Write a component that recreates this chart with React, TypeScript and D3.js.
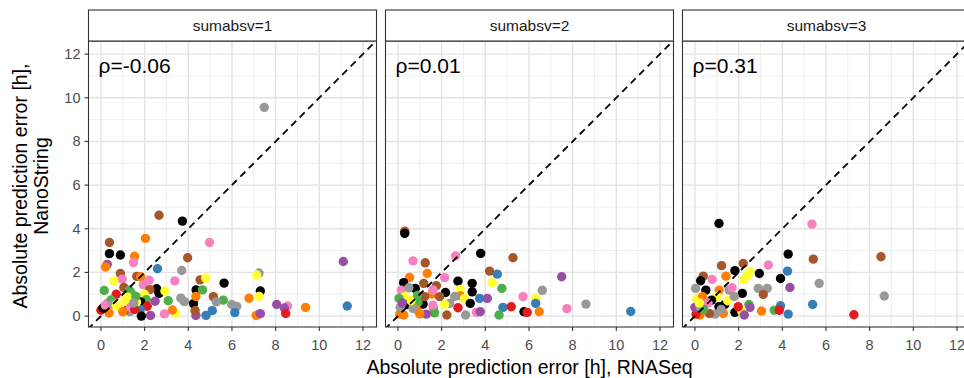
import React from "react";
import * as d3 from "d3";

const panelLabels = ["sumabsv=1", "sumabsv=2", "sumabsv=3"];
const rhoLabels = ["ρ=-0.06", "ρ=0.01", "ρ=0.31"];
const tickValues = [0, 2, 4, 6, 8, 10, 12];
const minorValues = [1, 3, 5, 7, 9, 11];
const xTitle = "Absolute prediction error [h], RNASeq";
const yTitleLines = ["Absolute prediction error [h],", "NanoString"];

const colorKeys = ["r", "b", "g", "p", "o", "y", "n", "k", "a", "x"];
const colorValues = ["#E41A1C", "#377EB8", "#4DAF4A", "#984EA3", "#FF7F00", "#FFFF33", "#A65628", "#F781BF", "#999999", "#000000"];

const p1x = [7.48, 2.66, 3.73, 2.04, 0.39, 4.97, 0.39, 0.89, 1.54, 3.97, 1.49, 0.29, 0.21, 2.59, 3.70, 11.1, 7.24, 7.13, 0.89, 1.64, 1.82, 0.97, 2.21, 0.59, 3.38, 4.54, 4.80, 1.94, 5.64, 1.05, 0.15, 1.38, 2.55, 2.66, 2.93, 4.36, 4.65, 7.30, 7.24, 0.70, 1.30, 1.23, 2.24, 2.00, 2.08, 3.66, 3.82, 4.24, 4.35, 5.15, 5.60, 5.28, 5.99, 6.22, 3.08, 2.48, 1.82, 6.78, 8.05, 8.55, 8.40, 8.46, 9.37, 11.28, 7.11, 7.30, 6.13, 4.81, 5.10, 4.35, 4.31, 3.42, 3.27, 2.91, 2.27, 2.12, 1.80, 1.85, 1.32, 1.08, 0.86, 0.37, 0.00, 0.09, 0.31, 0.47, 1.10, 1.63, 0.20, 0.55, 0.70, 1.35, 1.55, 1.60, 1.50, 1.00];
const p1y = [9.56, 4.62, 4.35, 3.56, 3.37, 3.37, 2.86, 2.80, 2.74, 2.67, 2.45, 2.37, 2.25, 2.17, 2.09, 2.50, 1.97, 1.88, 1.95, 1.82, 1.80, 1.69, 1.64, 1.61, 1.61, 1.66, 1.74, 1.44, 1.51, 1.31, 1.17, 1.09, 1.25, 1.04, 1.15, 1.20, 1.20, 1.15, 0.90, 1.00, 1.18, 0.86, 1.21, 0.99, 0.75, 0.82, 0.66, 0.57, 0.90, 0.89, 0.73, 0.65, 0.53, 0.44, 0.70, 0.68, 0.65, 0.82, 0.53, 0.46, 0.37, 0.12, 0.40, 0.46, 0.03, 0.11, 0.16, 0.03, 0.25, 0.03, 0.25, 0.12, 0.28, 0.10, 0.03, 0.45, 0.30, 0.00, 0.20, 0.26, 0.37, 0.15, 0.27, 0.37, 0.60, 0.74, 0.72, 0.64, 0.50, 0.55, 0.50, 0.40, 0.30, 0.90, 0.60, 0.20];
const p1c = ["a", "n", "x", "o", "n", "k", "x", "x", "o", "n", "k", "p", "o", "b", "a", "p", "a", "y", "n", "n", "o", "k", "k", "y", "k", "n", "y", "k", "x", "n", "g", "a", "x", "x", "y", "x", "g", "x", "y", "r", "g", "y", "n", "y", "g", "a", "a", "x", "o", "n", "g", "a", "a", "a", "g", "p", "x", "o", "p", "k", "p", "r", "o", "b", "o", "p", "b", "b", "b", "p", "n", "y", "o", "k", "p", "r", "b", "x", "a", "r", "y", "o", "r", "x", "k", "g", "y", "y", "k", "a", "y", "k", "r", "g", "a", "o"];

const p2x = [0.31, 0.31, 2.64, 3.79, 5.27, 0.69, 1.25, 1.34, 4.20, 4.55, 2.14, 0.53, 0.26, 2.75, 4.32, 1.18, 3.40, 4.76, 0.79, 0.15, 0.50, 1.76, 2.85, 3.40, 2.18, 1.56, 1.60, 0.31, 0.05, 1.91, 2.87, 3.05, 3.74, 4.09, 5.73, 6.61, 6.32, 6.31, 7.50, 2.37, 2.14, 3.31, 0.41, 1.15, 0.92, 1.22, 4.81, 5.19, 2.75, 1.63, 1.68, 1.30, 0.84, 0.08, 0.27, 0.69, 2.24, 3.10, 3.59, 3.77, 5.77, 5.92, 6.47, 4.63, 7.74, 8.61, 10.66, 1.60, 0.10, 0.60, 0.20, 1.00, 0.90, 2.60];
const p2y = [3.89, 3.79, 2.76, 2.87, 2.67, 2.53, 2.44, 1.95, 2.06, 1.92, 1.76, 1.77, 1.53, 1.60, 1.53, 1.50, 1.50, 1.27, 1.27, 1.19, 1.30, 1.39, 1.22, 1.11, 1.08, 1.01, 1.20, 0.89, 0.81, 0.89, 0.92, 0.81, 0.81, 0.81, 0.89, 1.18, 0.81, 0.58, 1.80, 0.58, 0.53, 0.58, 0.53, 0.55, 0.63, 0.89, 0.40, 0.43, 0.38, 0.35, 0.15, 0.09, 0.31, 0.09, 0.05, 0.35, 0.05, 0.05, 0.17, 0.20, 0.20, 0.17, 0.20, 0.05, 0.34, 0.55, 0.21, 0.50, 0.40, 0.70, 0.60, 0.10, 0.95, 0.90];
const p2c = ["n", "x", "k", "x", "n", "k", "n", "o", "n", "b", "k", "o", "x", "x", "y", "n", "x", "g", "x", "k", "a", "n", "y", "x", "x", "o", "k", "y", "g", "n", "o", "y", "b", "p", "k", "a", "y", "b", "p", "a", "y", "x", "x", "x", "g", "n", "b", "r", "r", "a", "g", "p", "o", "o", "o", "a", "n", "a", "k", "p", "x", "r", "o", "g", "k", "a", "b", "k", "a", "y", "p", "o", "g", "a"];

const p3x = [1.10, 5.36, 4.27, 5.42, 3.36, 2.21, 1.22, 1.83, 2.52, 2.40, 4.24, 2.95, 1.42, 0.38, 0.79, 2.24, 3.92, 0.26, 5.69, 4.35, 0.03, 2.90, 3.31, 0.50, 1.11, 1.57, 2.17, 3.13, 0.08, 0.35, 0.99, 0.76, 5.39, 3.92, 2.47, 2.52, 3.63, 3.86, 3.05, 4.27, 1.83, 2.14, 2.26, 1.37, 1.10, 1.98, 0.92, 1.30, 0.23, 0.05, 0.00, 0.23, 0.66, 8.52, 8.67, 7.28, 0.60, 1.50, 0.40, 1.80, 1.70, 0.20, 1.20];
const p3y = [4.24, 4.21, 2.84, 2.61, 2.34, 2.41, 2.31, 2.08, 2.03, 1.85, 2.06, 1.95, 1.83, 1.83, 1.68, 1.68, 1.72, 1.62, 1.50, 1.31, 1.27, 1.27, 1.27, 1.19, 1.19, 1.19, 1.04, 0.99, 0.78, 0.89, 0.89, 0.73, 0.53, 0.47, 0.53, 0.40, 0.27, 0.27, 0.23, 0.09, 0.17, 0.23, 0.05, 0.53, 0.43, 0.43, 0.09, 0.12, 0.05, 0.09, 0.40, 0.43, 0.12, 2.72, 0.92, 0.06, 0.60, 0.70, 0.30, 0.90, 1.30, 0.60, 0.30];
const p3c = ["x", "k", "x", "n", "k", "n", "n", "x", "y", "y", "b", "x", "o", "n", "k", "y", "x", "x", "a", "p", "a", "a", "a", "x", "o", "a", "x", "n", "y", "o", "y", "x", "b", "b", "g", "p", "g", "r", "o", "b", "x", "y", "p", "x", "x", "r", "a", "o", "o", "r", "p", "a", "n", "n", "a", "r", "k", "y", "g", "a", "k", "y", "a"];

const panelsX = [p1x, p2x, p3x];
const panelsY = [p1y, p2y, p3y];
const panelsC = [p1c, p2c, p3c];

const W = 964;
const H = 378;
const PANEL_W = 288;
const PANEL_STRIDE = 297;
const PANEL_LEFT = 88.5;
const PANEL_TOP = 41;
const PANEL_BOTTOM = 327;
const STRIP_TOP = 10;
const FONT = "'Liberation Sans', Arial, Helvetica, sans-serif";

const color = d3.scaleOrdinal<string, string>().domain(colorKeys).range(colorValues);

export default function App() {
  const y = d3.scaleLinear().domain([-0.5, 12.6]).range([PANEL_BOTTOM, PANEL_TOP]);
  return (
    <svg width={W} height={H} style={{ position: "absolute", left: 0, top: 0, background: "#fff" }} fontFamily={FONT}>
      <rect x={0} y={0} width={W} height={H} fill="#fff" />
      {panelLabels.map((lab, i) => {
        const left = PANEL_LEFT + i * PANEL_STRIDE;
        const x = d3.scaleLinear().domain([-0.57, 12.62]).range([left, left + PANEL_W]);
        const xs = panelsX[i];
        const ys = panelsY[i];
        const cs = panelsC[i];
        const d0 = -1;
        const d1 = 14;
        return (
          <g key={lab}>
            <defs>
              <clipPath id={`clip${i}`}>
                <rect x={left} y={PANEL_TOP} width={PANEL_W} height={PANEL_BOTTOM - PANEL_TOP} />
              </clipPath>
            </defs>
            <rect x={left} y={PANEL_TOP} width={PANEL_W} height={PANEL_BOTTOM - PANEL_TOP} fill="#fff" />
            {minorValues.map((v) => (
              <g key={`m${v}`}>
                <line x1={x(v)} x2={x(v)} y1={PANEL_TOP} y2={PANEL_BOTTOM} stroke="#EBEBEB" strokeWidth={0.8} />
                <line x1={left} x2={left + PANEL_W} y1={y(v)} y2={y(v)} stroke="#EBEBEB" strokeWidth={0.8} />
              </g>
            ))}
            {tickValues.map((v) => (
              <g key={`M${v}`}>
                <line x1={x(v)} x2={x(v)} y1={PANEL_TOP} y2={PANEL_BOTTOM} stroke="#E3E3E3" strokeWidth={1.4} />
                <line x1={left} x2={left + PANEL_W} y1={y(v)} y2={y(v)} stroke="#E3E3E3" strokeWidth={1.4} />
              </g>
            ))}
            <g clipPath={`url(#clip${i})`}>
              {xs.map((xv, j) => (
                <circle key={j} cx={x(xv)} cy={y(ys[j])} r={4.7} fill={color(cs[j])} />
              ))}
              <line x1={x(d0)} y1={y(d0)} x2={x(d1)} y2={y(d1)} stroke="#000" strokeWidth={1.8} strokeDasharray="7,5" />
            </g>
            <text x={left + 10} y={73} fontSize={21} fill="#000">{rhoLabels[i]}</text>
            <rect x={left} y={PANEL_TOP} width={PANEL_W} height={PANEL_BOTTOM - PANEL_TOP} fill="none" stroke="#333" strokeWidth={1.1} />
            <rect x={left} y={STRIP_TOP} width={PANEL_W} height={PANEL_TOP - STRIP_TOP} fill="#fff" stroke="#333" strokeWidth={1.1} />
            <text x={left + PANEL_W / 2} y={(STRIP_TOP + PANEL_TOP) / 2 + 5.5} textAnchor="middle" fontSize={15.5} fill="#1A1A1A">{lab}</text>
            {tickValues.map((v) => (
              <g key={`t${v}`}>
                <line x1={x(v)} x2={x(v)} y1={PANEL_BOTTOM} y2={PANEL_BOTTOM + 4} stroke="#333" strokeWidth={1.1} />
                <text x={x(v)} y={PANEL_BOTTOM + 23} textAnchor="middle" fontSize={14.5} fill="#4D4D4D">{v}</text>
              </g>
            ))}
          </g>
        );
      })}
      {tickValues.map((v) => (
        <g key={`yt${v}`}>
          <line x1={PANEL_LEFT - 4} x2={PANEL_LEFT} y1={y(v)} y2={y(v)} stroke="#333" strokeWidth={1.1} />
          <text x={PANEL_LEFT - 8} y={y(v) + 5} textAnchor="end" fontSize={14.5} fill="#4D4D4D">{v}</text>
        </g>
      ))}
      {yTitleLines.map((t, k) => (
        <text key={t} transform={`translate(${27 + k * 21},${186}) rotate(-90)`} textAnchor="middle" fontSize={19.5} fill="#000">{t}</text>
      ))}
      <text x={(PANEL_LEFT + PANEL_LEFT + 2 * PANEL_STRIDE + PANEL_W) / 2} y={374} textAnchor="middle" fontSize={19.5} fill="#000">{xTitle}</text>
    </svg>
  );
}
